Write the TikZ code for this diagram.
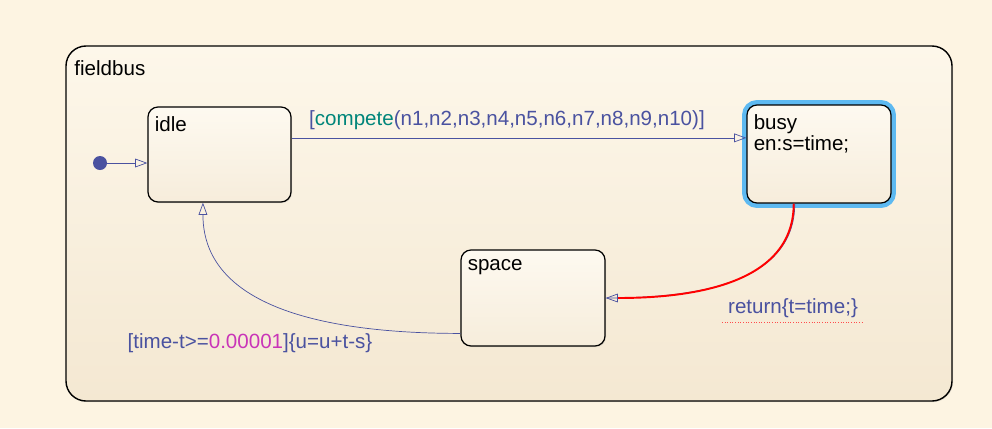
\documentclass[tikz,border=0pt]{standalone}
\usepackage{fontspec}
\setmainfont{Liberation Sans}
\usetikzlibrary{arrows.meta,shadows}

\definecolor{pageback}{HTML}{FDF4E2}
\definecolor{boxtop}{HTML}{FDF7EA}
\definecolor{boxbottom}{HTML}{F4E8D2}
\definecolor{translink}{HTML}{4A52A0}
\definecolor{functeal}{HTML}{00857A}
\definecolor{numpink}{HTML}{C934B8}
\definecolor{glowblue}{HTML}{5DB9F1}

\tikzset{
  chart/.style={draw=black, line width=0.8pt, rounded corners=0.4cm,
    top color=boxtop, bottom color=boxbottom,
    drop shadow={opacity=0.2, shadow xshift=0.6pt, shadow yshift=-0.6pt}},
  state/.style={draw=black, line width=0.7pt, rounded corners=0.2cm,
    top color=boxtop!70!white, bottom color=boxbottom!80!white,
    drop shadow={opacity=0.2, shadow xshift=0.6pt, shadow yshift=-0.6pt}},
  active/.style={state, preaction={draw=glowblue, line width=5.6pt}},
  statename/.style={anchor=north west, inner sep=4pt, yshift=-1.5pt, align=left,
    font=\fontsize{11.7}{10.8}\selectfont},
  trans/.style={draw=translink, line width=0.4pt,
    -{Triangle[open, length=7pt, width=5pt]}},
  guard/.style={text=translink, font=\fontsize{11.7}{14}\selectfont}
}

\begin{document}
\begin{tikzpicture}
  \fill[pageback] (0,0) rectangle (19.84,8.56);
  \useasboundingbox (0,0) rectangle (19.84,8.56);

  % outer chart
  \node[chart, minimum width=17.72cm, minimum height=7.1cm] (fieldbus) at (10.18,4.09) {};
  \node[statename, inner sep=5pt, yshift=-2pt] (fieldbusname) at (fieldbus.north west) {fieldbus};

  % states
  \node[state, minimum width=2.86cm, minimum height=1.9cm] (idle) at (4.39,5.47) {};
  \node[active, minimum width=2.88cm, minimum height=1.96cm] (busy) at (16.38,5.48) {};
  \node[state, minimum width=2.88cm, minimum height=1.92cm] (space) at (10.66,2.6) {};

  \node[statename] (idlename) at (idle.north west) {idle};
  \node[statename] (busyname) at (busy.north west) {busy\\en:s=time;};
  \node[statename] (spacename) at (space.north west) {space};

  % default transition
  \fill[translink] (2.0,5.3) circle (0.14) coordinate (start);
  \draw[trans] (start) -- (start -| idle.west);

  % transitions
  \draw[trans] (idle.13) -- (idle.13 -| busy.west);
  \node[guard] (competelabel) at (10.14,6.16)
    {[\textcolor{functeal}{compete}(n1,n2,n3,n4,n5,n6,n7,n8,n9,n10)]};

  \draw[draw=translink, line width=0.4pt, transform canvas={xshift=0.6pt}]
    (busy.-117) to[out=-90, in=0] (space.east);
  \draw[trans, draw=red, line width=1.1pt, -{Triangle[open, length=7pt, width=5pt, line width=0.4pt, color=translink]}]
    (busy.-117) to[out=-90, in=0] (space.east);
  \node[guard] (returnlabel) at (15.86,2.4) {return\{t=time;\}};
  \draw[red!70, densely dotted, line width=0.5pt]
    ([yshift=1pt]returnlabel.south west) -- ([yshift=1pt]returnlabel.south east);

  \draw[trans] (space.206) to[out=180, in=-90] (idle.251);
  \node[guard] (timelabel) at (5.0,1.7)
    {[time-t>=\textcolor{numpink}{0.00001}]\{u=u+t-s\}};
\end{tikzpicture}
\end{document}
